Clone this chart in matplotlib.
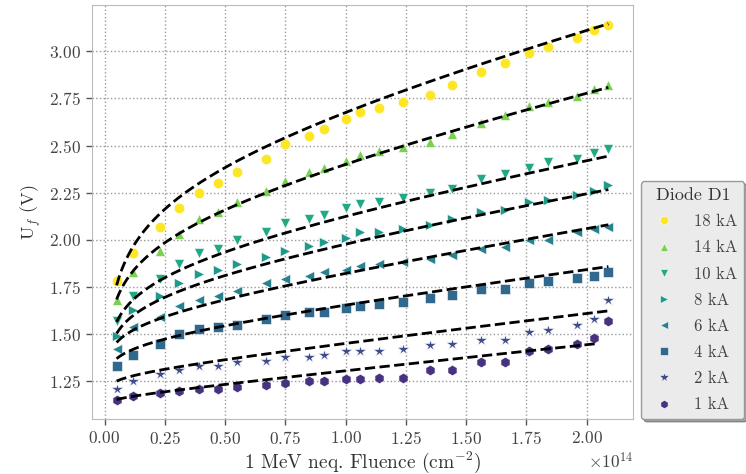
import numpy as np
import matplotlib
matplotlib.use("Agg")
import matplotlib.pyplot as plt

plt.rcParams['font.family'] = 'cmr10'
plt.rcParams['mathtext.fontset'] = 'cm'
plt.rcParams['axes.formatter.use_mathtext'] = True

# fluence points (in units of 1e14 neq/cm^2)
fluence = np.array([0.05, 0.12, 0.23, 0.31, 0.39, 0.47, 0.55, 0.67, 0.75, 0.85, 0.91, 1.00,
                    1.06, 1.14, 1.24, 1.35, 1.44, 1.56, 1.66, 1.76, 1.84, 1.96, 2.03, 2.09])

currents = [18, 14, 10, 8, 6, 4, 2, 1]

uf_18ka = [1.78, 1.93, 2.07, 2.17, 2.25, 2.30, 2.36, 2.43, 2.51, 2.55, 2.59, 2.64,
           2.68, 2.70, 2.73, 2.77, 2.82, 2.89, 2.94, 2.99, 3.02, 3.07, 3.11, 3.14]
uf_14ka = [1.68, 1.83, 1.94, 2.03, 2.11, 2.15, 2.20, 2.26, 2.31, 2.36, 2.38, 2.42,
           2.45, 2.47, 2.49, 2.52, 2.56, 2.62, 2.66, 2.71, 2.73, 2.76, 2.80, 2.82]
uf_10ka = [1.57, 1.70, 1.79, 1.87, 1.93, 1.95, 2.00, 2.04, 2.09, 2.11, 2.13, 2.17,
           2.19, 2.20, 2.22, 2.25, 2.27, 2.32, 2.35, 2.38, 2.41, 2.43, 2.46, 2.48]
uf_8ka = [1.49, 1.63, 1.70, 1.77, 1.82, 1.84, 1.87, 1.91, 1.94, 1.97, 1.99, 2.01,
          2.04, 2.04, 2.06, 2.08, 2.11, 2.15, 2.16, 2.20, 2.21, 2.24, 2.26, 2.29]
uf_6ka = [1.42, 1.54, 1.59, 1.65, 1.68, 1.70, 1.73, 1.77, 1.79, 1.81, 1.83, 1.84,
          1.86, 1.87, 1.88, 1.90, 1.92, 1.95, 1.96, 2.00, 2.00, 2.04, 2.06, 2.07]
uf_4ka = [1.33, 1.39, 1.45, 1.50, 1.53, 1.54, 1.55, 1.58, 1.60, 1.62, 1.62, 1.64,
          1.65, 1.66, 1.67, 1.69, 1.71, 1.74, 1.74, 1.77, 1.78, 1.80, 1.81, 1.83]
uf_2ka = [1.21, 1.25, 1.29, 1.31, 1.33, 1.33, 1.35, 1.36, 1.38, 1.38, 1.39, 1.41,
          1.41, 1.41, 1.42, 1.44, 1.45, 1.47, 1.47, 1.51, 1.52, 1.55, 1.58, 1.68]
uf_1ka = [1.15, 1.17, 1.19, 1.20, 1.21, 1.21, 1.22, 1.23, 1.24, 1.25, 1.25, 1.26,
          1.26, 1.27, 1.27, 1.31, 1.31, 1.35, 1.35, 1.41, 1.42, 1.45, 1.48, 1.57]

uf_series = [uf_18ka, uf_14ka, uf_10ka, uf_8ka, uf_6ka, uf_4ka, uf_2ka, uf_1ka]

# fit U = a + b*phi + c*ln(phi), phi in 1e14 cm^-2
fit_a = [2.389, 2.129, 1.911, 1.775, 1.626, 1.497, 1.307, 1.174]
fit_b = [0.286, 0.271, 0.213, 0.202, 0.196, 0.157, 0.144, 0.132]
fit_c = [0.215, 0.153, 0.119, 0.094, 0.060, 0.045, 0.021, 0.009]
fit_end = [2.09, 2.09, 2.09, 2.09, 2.09, 2.09, 2.09, 2.05]

markers = ['o', '^', 'v', '>', '<', 's', '*', 'h']
colors = ['#fde725', '#7ad151', '#22a884', '#1f9a8a', '#27818e', '#31688e', '#3e4c8a', '#46327e']

fig, ax = plt.subplots(figsize=(7.46, 4.74), dpi=100)
fig.subplots_adjust(left=0.1233, right=0.8485, top=0.9895, bottom=0.116)

for idx, cur in enumerate(currents):
    ax.plot(fluence * 1e14, uf_series[idx], ls='none', marker=markers[idx],
            ms=7.5 if markers[idx] != '*' else 9, color=colors[idx],
            mec='white', mew=0.4, label=r'%d kA' % cur, zorder=2)

for idx in range(len(currents)):
    phi = np.linspace(fluence[0], fit_end[idx], 200)
    ax.plot(phi * 1e14, fit_a[idx] + fit_b[idx] * phi + fit_c[idx] * np.log(phi),
            ls='--', lw=2, color='black', zorder=3)

ax.grid(True, ls=':', color='#999999', lw=1)
for sp in ax.spines.values():
    sp.set_color('#bbbbbb')
ax.tick_params(colors='#555555', labelsize=12.5, length=4, width=1, pad=4)
ax.tick_params(axis='both', labelcolor='#444444')
ax.xaxis.get_offset_text().set_fontsize(12.5)
ax.xaxis.get_offset_text().set_color('#444444')

ax.set_xlabel('1 MeV neq. Fluence (cm$^{-2}$)', fontsize=14, color='#333333', labelpad=2)
ax.set_ylabel(r'U$_f$ (V)', fontsize=13, color='#333333')

leg = ax.legend(title='Diode D1', loc='lower left', bbox_to_anchor=(1.015, 0.0),
                borderaxespad=0, fontsize=12, title_fontsize=13, shadow=True,
                fancybox=True, framealpha=1, facecolor='#ebebeb', edgecolor='#999999',
                markerscale=0.8, labelspacing=0.65)
for t in leg.get_texts():
    t.set_color('#444444')
leg.get_title().set_color('#333333')

fig.savefig('out.png', dpi=100)
